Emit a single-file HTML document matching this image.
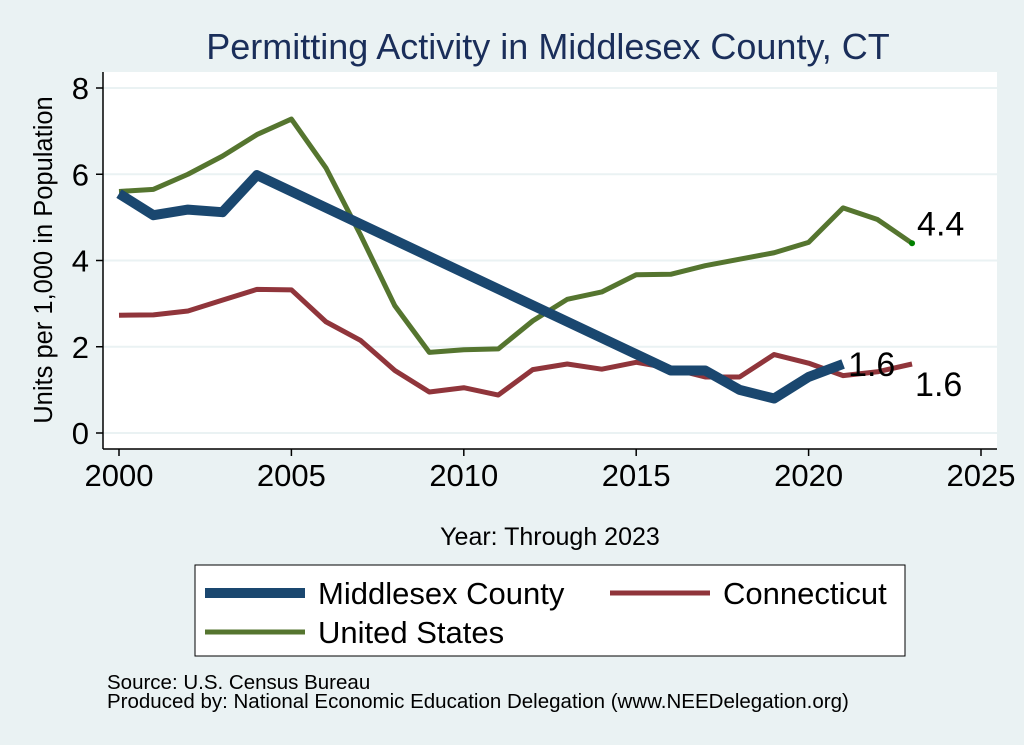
<!DOCTYPE html>
<html><head><meta charset="utf-8"><style>
body{margin:0;background:#eaf2f3;}
svg{display:block;font-family:"Liberation Sans",Arial,sans-serif;}
</style></head><body>
<svg id="c" width="1024" height="745">
<rect x="0" y="0" width="1024" height="745" fill="#eaf2f3"/>
<text x="548" y="59" font-size="36" fill="#1a2e5a" text-anchor="middle">Permitting Activity in Middlesex County, CT</text>
<rect x="103" y="72" width="894" height="377" fill="#fff"/>
<g id="grid"></g>
<g id="axes"></g>
<g id="series"></g>
<text x="0" y="0" font-size="25.5" transform="translate(52,260) rotate(-90)" text-anchor="middle">Units per 1,000 in Population</text>
<text x="550" y="545" font-size="25" text-anchor="middle">Year: Through 2023</text>
<g>
<rect x="195" y="565" width="710" height="91" fill="#fff" stroke="#000" stroke-width="1"/>
<g><line x1="205" y1="593" x2="305" y2="593" stroke="#1a476f" stroke-width="10"/><text x="318" y="604" font-size="31">Middlesex County</text></g>
<g><line x1="610" y1="593" x2="710" y2="593" stroke="#90353b" stroke-width="5"/><text x="723" y="604" font-size="31">Connecticut</text></g>
<g><line x1="205" y1="632" x2="305" y2="632" stroke="#55752f" stroke-width="5"/><text x="318" y="643" font-size="31">United States</text></g>
</g>
<text x="107" y="689" font-size="20.5">Source: U.S. Census Bureau</text>
<text x="107" y="708" font-size="20.5">Produced by: National Economic Education Delegation (www.NEEDelegation.org)</text>
</svg>
<script>
const msYears=[2000,2001,2002,2003,2004,2016,2017,2018,2019,2020,2021];
const msValues=[5.55,5.05,5.18,5.12,5.98,1.45,1.45,1.0,0.8,1.3,1.6];
const ctYears=[2000,2001,2002,2003,2004,2005,2006,2007,2008,2009,2010,2011,2012,2013,2014,2015,2016,2017,2018,2019,2020,2021,2022,2023];
const ctValues=[2.73,2.74,2.83,3.08,3.33,3.32,2.58,2.15,1.45,0.95,1.05,0.88,1.47,1.6,1.48,1.64,1.5,1.3,1.3,1.82,1.62,1.33,1.42,1.6];
const usYears=ctYears;
const usValues=[5.6,5.65,6.0,6.42,6.92,7.28,6.15,4.6,2.95,1.87,1.93,1.95,2.6,3.1,3.27,3.67,3.68,3.88,4.03,4.18,4.42,5.22,4.95,4.4];
const xTicks=[2000,2005,2010,2015,2020,2025];
const yTicks=[0,2,4,6,8];
const NS='http://www.w3.org/2000/svg';
const X=v=>119+(v-2000)*(981-119)/25;
const Y=v=>433-v*(433-88)/8;
function mk(tag,attrs,parent){const e=document.createElementNS(NS,tag);for(const k in attrs)e.setAttribute(k,attrs[k]);parent.appendChild(e);return e;}
const grid=document.getElementById('grid'),axes=document.getElementById('axes'),ser=document.getElementById('series');
yTicks.forEach(t=>{
 const g=mk('line',{x1:103,x2:997,y1:Y(t),y2:Y(t),stroke:'#eaf2f3','stroke-width':2},grid);
 
 
 mk('line',{x1:96,x2:103,y1:Y(t),y2:Y(t),stroke:'#000','stroke-width':1.5},axes);
 const l=mk('text',{x:89,y:Y(t)+11,'font-size':31,'text-anchor':'end'},axes);
 l.textContent=t;
 
 
});
mk('line',{x1:103,x2:103,y1:72,y2:449,stroke:'#000','stroke-width':1.5},axes);
mk('line',{x1:103,x2:997,y1:449,y2:449,stroke:'#000','stroke-width':1.5},axes);
xTicks.forEach(t=>{
 mk('line',{x1:X(t),x2:X(t),y1:449,y2:456,stroke:'#000','stroke-width':1.5},axes);
 const l=mk('text',{x:X(t),y:486,'font-size':31,'text-anchor':'middle'},axes);
 l.textContent=t;
 
 
});
function line(xs,vs,color,w,name){
 const p=mk('polyline',{points:xs.map((x,i)=>X(x)+','+Y(vs[i])).join(' '),fill:'none',stroke:color,'stroke-width':w,'stroke-linejoin':'round'},ser);
 
 
}
line(ctYears,ctValues,'#90353b',5,'connecticut-line');
line(usYears,usValues,'#55752f',5,'united-states-line');
line(msYears,msValues,'#1a476f',10,'middlesex-line');
const lastUS=usValues[usValues.length-1];
mk('circle',{cx:X(2023),cy:Y(lastUS),r:3,fill:'#008000'},ser);
function lab(x,y,txt,name){const t=mk('text',{x:x,y:y,'font-size':34},ser);t.textContent=txt;
 
 }
lab(X(2023)+5,Y(lastUS)-8,lastUS.toFixed(1),'us-end-label');
lab(X(2021)+5,Y(msValues[msValues.length-1])+12,msValues[msValues.length-1].toFixed(1),'middlesex-end-label');
lab(X(2023)+3,Y(ctValues[ctValues.length-1])+32,ctValues[ctValues.length-1].toFixed(1),'connecticut-end-label');
</script>
</body></html>
